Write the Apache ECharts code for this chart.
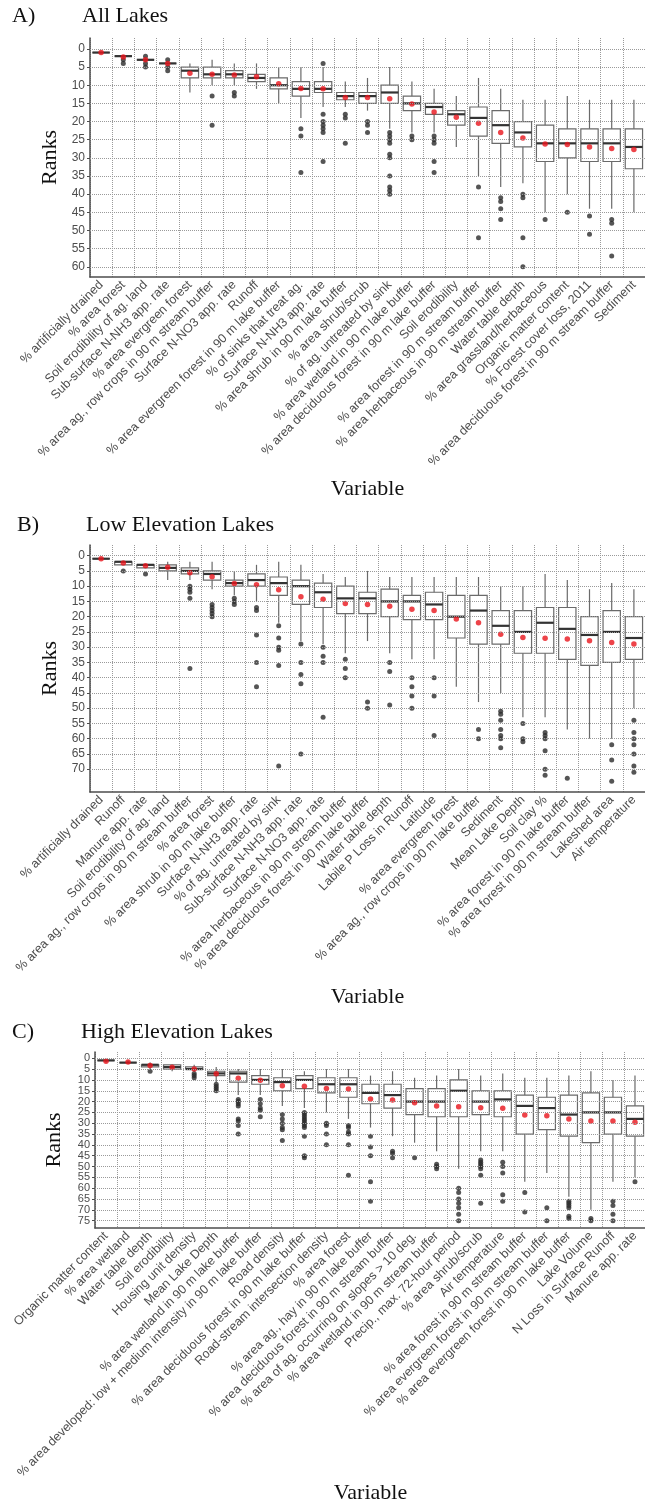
<!DOCTYPE html>
<html>
<head>
    <meta charset='utf-8'/>
    <title>Variable rank boxplots</title>
    <style>
        body {
            margin: 0;
            padding: 0;
            background: #fff;
        }

        #chart {
            width: 645px;
            height: 1499px;
        }
    </style>
</head>
<body>
<div id='chart'></div>
<script src="https://cdn.jsdelivr.net/npm/echarts@6/dist/echarts.min.js"></script>
<script type="text/javascript">
    // A) all lakes
    var aNames = ['% artificially drained', '% area forest', 'Soil erodibility of ag. land', 'Sub-surface N-NH3 app. rate',
        '% area evergreen forest', '% area ag., row crops in 90 m stream buffer', 'Surface N-NO3 app. rate', 'Runoff',
        '% area evergreen forest in 90 m lake buffer', '% of sinks that treat ag.', 'Surface N-NH3 app. rate',
        '% area shrub in 90 m lake buffer', '% area shrub/scrub', '% of ag. untreated by sink',
        '% area wetland in 90 m lake buffer', '% area deciduous forest in 90 m lake buffer', 'Soil erodibility',
        '% area forest in 90 m stream buffer', '% area herbaceous in 90 m stream buffer', 'Water table depth',
        '% area grassland/herbaceous', 'Organic matter content', '% Forest cover loss, 2011',
        '% area deciduous forest in 90 m stream buffer', 'Sediment'];
    // [lower whisker, q1, median, q3, upper whisker]
    var aStats = [[1, 1, 1, 1, 1], [2, 2, 2, 2, 2], [3, 3, 3, 3, 3], [4, 4, 4, 4, 4], [4, 5, 6, 8, 12],
        [3, 5, 7, 8, 10], [4, 6, 7, 8, 10], [4, 7, 8, 9, 11], [5, 8, 10, 11, 15], [5, 9, 11, 13, 19],
        [5, 9, 11, 12, 16], [9, 12, 13, 14, 16], [8, 12, 13, 15, 17], [5, 10, 12, 15, 22], [9, 13, 15, 17, 23],
        [11, 15, 16, 18, 23], [13, 17, 18, 21, 27], [8, 16, 19, 24, 35], [11, 17, 21, 26, 38], [14, 20, 23, 27, 37],
        [14, 21, 26, 31, 45], [13, 22, 26, 30, 40], [14, 22, 26, 31, 44], [14, 22, 26, 31, 44], [14, 22, 27, 33, 45]];
    var aOutliers = [[], [3, 4], [2, 4, 5], [3, 5, 6], [], [13, 21], [12, 13], [], [], [22, 24, 34],
        [4, 18, 20, 21, 22, 23, 31], [18, 19, 26], [20, 21, 23], [23, 24, 25, 26, 29, 30, 35, 38, 39, 40], [24, 25],
        [24, 25, 26, 31, 34], [], [38, 52], [41, 42, 44, 47], [40, 41, 52, 60], [47], [45], [46, 51], [47, 48, 57], []];
    var aMeans = [1, 2.2, 3, 4, 6.7, 7, 7.2, 7.7, 9.6, 10.9, 11, 13.4, 13.4, 13.7, 15.2, 17.4, 18.8, 20.5, 23, 24.5,
        26.2, 26.3, 27, 27.4, 27.7];
    var aTicks = [0, 5, 10, 15, 20, 25, 30, 35, 40, 45, 50, 55, 60];

    // B) low elevation lakes
    var bNames = ['% artificially drained', 'Runoff', 'Manure app. rate', 'Soil erodibility of ag. land',
        '% area ag., row crops in 90 m stream buffer', '% area forest', '% area shrub in 90 m lake buffer',
        'Surface N-NH3 app. rate', '% of ag. untreated by sink', 'Sub-surface N-NH3 app. rate', 'Surface N-NO3 app. rate',
        '% area herbaceous in 90 m stream buffer', '% area deciduous forest in 90 m lake buffer', 'Water table depth',
        'Labile P Loss in Runoff', 'Latitude', '% area evergreen forest', '% area ag., row crops in 90 m lake buffer',
        'Sediment', 'Mean Lake Depth', 'Soil clay %', '% area forest in 90 m lake buffer',
        '% area forest in 90 m stream buffer', 'Lakeshed area', 'Air temperature'];
    var bStats = [[1, 1, 1, 1, 1], [2, 2, 2, 3, 3], [3, 3, 3, 4, 4], [2, 3, 4, 5, 8], [2, 4, 5, 6, 8],
        [2, 5, 6, 8, 11], [5, 8, 9, 10, 13], [3, 6, 8, 10, 15], [2, 7, 9, 13, 22], [3, 8, 10, 16, 28],
        [6, 9, 12, 17, 29], [7, 10, 14, 19, 32], [5, 12, 14, 19, 28], [7, 11, 15, 20, 32], [7, 13, 15, 21, 34],
        [7, 12, 16, 21, 34], [7, 13, 20, 27, 43], [7, 13, 18, 29, 48], [10, 18, 23, 29, 45], [10, 18, 25, 32, 53],
        [6, 17, 22, 32, 53], [8, 17, 24, 34, 57], [11, 20, 26, 36, 60], [9, 18, 25, 35, 60], [11, 20, 27, 34, 50]];
    var bOutliers = [[], [5], [6], [], [10, 11, 12, 14, 37], [16, 17, 18, 19, 20], [14, 15, 16],
        [17, 18, 26, 35, 43], [23, 27, 30, 31, 36, 69], [29, 35, 39, 42, 65], [30, 33, 35, 53], [34, 37, 40],
        [48, 50], [35, 38, 49], [40, 43, 46, 50], [40, 46, 59], [], [57, 60], [51, 52, 54, 57, 59, 60, 63],
        [55, 60, 61], [58, 59, 60, 64, 70, 72], [73], [], [62, 67, 74], [54, 58, 60, 62, 65, 69, 71]];
    var bMeans = [1, 2.4, 3.3, 3.8, 5.6, 6.9, 9.1, 9.5, 11.2, 13.5, 14.3, 15.7, 16, 16.6, 17.6, 18, 20.8, 22, 25.8,
        26.8, 27.1, 27.3, 27.9, 28.5, 29];
    var bTicks = [0, 5, 10, 15, 20, 25, 30, 35, 40, 45, 50, 55, 60, 65, 70];

    // C) high elevation lakes
    var cNames = ['Organic matter content', '% area wetland', 'Water table depth', 'Soil erodibility',
        'Housing unit density', 'Mean Lake Depth', '% area wetland in 90 m lake buffer',
        '% area developed: low + medium intensity in 90 m lake buffer', 'Road density',
        '% area deciduous forest in 90 m lake buffer', 'Road-stream intersection density', '% area forest',
        '% area ag., hay in 90 m lake buffer', '% area deciduous forest in 90 m stream buffer',
        '% area of ag. occurring on slopes > 10 deg.', '% area wetland in 90 m stream buffer',
        'Precip., max. 72-hour period', '% area shrub/scrub', 'Air temperature', '% area forest in 90 m stream buffer',
        '% area evergreen forest in 90 m stream buffer', '% area evergreen forest in 90 m lake buffer', 'Lake Volume',
        'N Loss in Surface Runoff', 'Manure app. rate'];
    var cStats = [[1, 1, 1, 1, 2], [1, 2, 2, 2, 2], [2, 3, 3, 4, 5], [3, 3, 4, 5, 6], [3, 4, 5, 5, 6],
        [4, 6, 7, 8, 11], [5, 6, 7, 11, 17], [5, 8, 10, 12, 17], [5, 9, 11, 15, 22], [6, 8, 10, 14, 23],
        [5, 9, 12, 16, 25], [5, 9, 12, 18, 28], [8, 12, 16, 21, 32], [6, 12, 17, 23, 36], [9, 14, 20, 26, 39],
        [8, 14, 20, 27, 43], [5, 10, 15, 27, 51], [8, 15, 20, 26, 43], [7, 15, 19, 27, 43], [9, 17, 22, 35, 57],
        [9, 18, 23, 33, 53], [8, 17, 26, 36, 64], [6, 16, 25, 39, 70], [10, 18, 25, 35, 57], [8, 22, 28, 36, 55]];
    var cOutliers = [[], [], [6], [], [7, 8, 9], [12, 13, 14, 15], [19, 20, 21, 22, 28, 29, 31, 35],
        [19, 21, 23, 24, 27], [26, 28, 30, 32, 33, 38], [25, 26, 27, 28, 29, 30, 31, 32, 36, 45, 46],
        [30, 31, 35, 40], [31, 32, 34, 35, 40, 54], [36, 41, 45, 57, 66], [43, 44, 46], [46], [49, 50, 51],
        [60, 62, 65, 67, 69, 72, 75], [47, 48, 49, 50, 51, 54, 67], [48, 50, 53, 63, 66], [62, 71], [69, 75],
        [66, 67, 68, 69, 73, 74], [74, 75], [66, 68, 72, 75], [57]];
    var cMeans = [1.4, 1.7, 3.3, 4.2, 4.9, 7.2, 9.2, 10.2, 12.7, 12.9, 14, 14.2, 18.8, 19.3, 20.5, 22, 22.4, 22.8,
        23.1, 26.2, 26.5, 28, 29, 29, 29.6];
    var cTicks = [0, 5, 10, 15, 20, 25, 30, 35, 40, 45, 50, 55, 60, 65, 70, 75];

    var panels = [
        {tag: 'A)', title: 'All Lakes', names: aNames, stats: aStats, outliers: aOutliers, means: aMeans, ticks: aTicks,
            left: 90, top: 38, width: 555, height: 239, min: -3, max: 62.8, titleTop: 5, tagLeft: 12, titleLeft: 82,
            rankGap: 23, varGap: 201, tickFont: 12},
        {tag: 'B)', title: 'Low Elevation Lakes', names: bNames, stats: bStats, outliers: bOutliers, means: bMeans,
            ticks: bTicks, left: 90, top: 545, width: 555, height: 247, min: -3.5, max: 77.5, titleTop: 514,
            tagLeft: 17, titleLeft: 86, rankGap: 29, varGap: 194, tickFont: 12},
        {tag: 'C)', title: 'High Elevation Lakes', names: cNames, stats: cStats, outliers: cOutliers, means: cMeans,
            ticks: cTicks, left: 95, top: 1052, width: 551, height: 176, min: -2.9, max: 78.4, titleTop: 1021,
            tagLeft: 12, titleLeft: 81, rankGap: 30, varGap: 248, tickFont: 11}
    ];

    var serif = 'Liberation Serif';
    var sans = 'Liberation Sans';
    var axisGrey = '#4d4d4d';
    var gridStyle = {type: 'dotted', color: '#9a9a9a', width: 1};

    function renderBox(params, api) {
        var x = api.value(0);
        var lo = api.coord([x, api.value(1)]);
        var q1 = api.coord([x, api.value(2)]);
        var md = api.coord([x, api.value(3)]);
        var q3 = api.coord([x, api.value(4)]);
        var hi = api.coord([x, api.value(5)]);
        var half = api.size([1, 0])[0] * 0.39;
        var cx = md[0];
        return {
            type: 'group',
            children: [
                {type: 'line', shape: {x1: cx, y1: lo[1], x2: cx, y2: hi[1]},
                    style: {stroke: '#6a6a6a', lineWidth: 1.2}},
                {type: 'rect', shape: {x: cx - half, y: Math.min(q1[1], q3[1]), width: half * 2,
                        height: Math.abs(q3[1] - q1[1])},
                    style: {fill: '#fff', stroke: '#6a6a6a', lineWidth: 1.2}},
                {type: 'line', shape: {x1: cx - half, y1: md[1], x2: cx + half, y2: md[1]},
                    style: {stroke: '#333', lineWidth: 2.2}}
            ]
        };
    }

    var grid = [], xAxis = [], yAxis = [], series = [], title = [];

    panels.forEach(function (p, i) {
        grid.push({left: p.left, top: p.top, width: p.width, height: p.height, containLabel: false,
            outerBoundsMode: 'none'});

        title.push({text: p.tag, left: p.tagLeft, top: p.titleTop, padding: 0,
            textStyle: {fontFamily: serif, fontSize: 22, fontWeight: 'normal', color: '#111'}});
        title.push({text: p.title, left: p.titleLeft, top: p.titleTop, padding: 0,
            textStyle: {fontFamily: serif, fontSize: 22, fontWeight: 'normal', color: '#111'}});

        xAxis.push({
            type: 'category',
            gridIndex: i,
            data: p.names,
            boundaryGap: true,
            name: 'Variable',
            nameLocation: 'middle',
            nameGap: p.varGap,
            nameTextStyle: {fontFamily: serif, fontSize: 22, color: '#111', verticalAlign: 'top'},
            axisLine: {onZero: false, lineStyle: {color: axisGrey, width: 1.5}},
            axisTick: {alignWithLabel: true, length: 3, lineStyle: {color: axisGrey}},
            axisLabel: {interval: 0, rotate: 45, margin: 6, fontFamily: sans, fontSize: 12.5, color: axisGrey},
            splitLine: {show: true, interval: 0, lineStyle: gridStyle}
        });

        yAxis.push({
            type: 'value',
            gridIndex: i,
            inverse: true,
            min: p.min,
            max: p.max,
            name: 'Ranks',
            nameLocation: 'middle',
            nameRotate: 90,
            nameGap: p.rankGap,
            nameTextStyle: {fontFamily: serif, fontSize: 22, color: '#111'},
            axisLine: {show: true, lineStyle: {color: axisGrey, width: 1.5}},
            axisTick: {show: true, length: 3, customValues: p.ticks, lineStyle: {color: axisGrey}},
            axisLabel: {margin: 5, fontFamily: sans, fontSize: p.tickFont, color: axisGrey, customValues: p.ticks},
            splitLine: {show: false}
        });

        // horizontal dotted grid lines at the tick values, kept behind the boxes
        series.push({
            type: 'line',
            xAxisIndex: i,
            yAxisIndex: i,
            data: [],
            silent: true,
            z: 1,
            markLine: {
                silent: true,
                symbol: ['none', 'none'],
                label: {show: false},
                lineStyle: gridStyle,
                emphasis: {disabled: true},
                data: p.ticks.map(function (v) {
                    return {yAxis: v};
                })
            }
        });

        series.push({
            type: 'custom',
            xAxisIndex: i,
            yAxisIndex: i,
            renderItem: renderBox,
            encode: {x: 0, y: [1, 2, 3, 4, 5]},
            data: p.stats.map(function (s, j) {
                return [j].concat(s);
            }),
            z: 2
        });

        var pts = [];
        p.outliers.forEach(function (list, j) {
            list.forEach(function (v) {
                pts.push([j, v]);
            });
        });
        series.push({
            type: 'scatter',
            xAxisIndex: i,
            yAxisIndex: i,
            data: pts,
            symbolSize: 5,
            itemStyle: {color: '#2b2b2b'},
            z: 3
        });

        series.push({
            type: 'scatter',
            xAxisIndex: i,
            yAxisIndex: i,
            data: p.means.map(function (m, j) {
                return [j, m];
            }),
            symbolSize: 5.5,
            itemStyle: {color: '#e8141b'},
            z: 4
        });
    });

    var chart = echarts.init(document.getElementById('chart'), null, {renderer: 'canvas'});
    chart.setOption({
        animation: false,
        backgroundColor: '#fff',
        title: title,
        grid: grid,
        xAxis: xAxis,
        yAxis: yAxis,
        series: series
    });
</script>
</body>
</html>
